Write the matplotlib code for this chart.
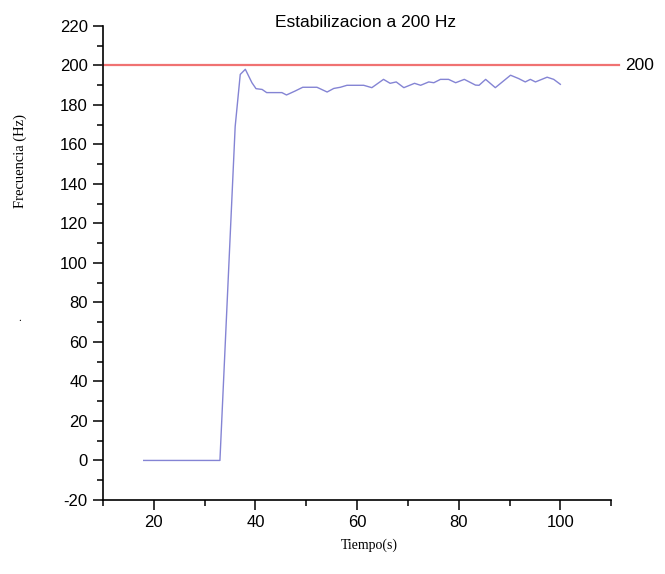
import matplotlib
matplotlib.use("Agg")
import matplotlib.pyplot as plt
from matplotlib.ticker import MultipleLocator

plt.rcParams["axes.unicode_minus"] = False

# valores
tiempo = [18, 33, 36, 37, 38, 39.3, 40.1, 41.3, 42.2, 45.2, 46.1, 47.8, 49.3,
          52.1, 54.1, 55.4, 56.7, 58.0, 59.3, 61.3, 62.9, 65.2, 66.5, 67.7,
          69.2, 71.3, 72.5, 74.1, 75.1, 76.4, 78.0, 79.4, 81.1, 83.3, 84.0,
          85.3, 87.2, 90.2, 91.8, 93.1, 94.1, 95.1, 97.4, 98.7, 100.0]
frecuencia = [0, 0, 169, 195.4, 198, 191.2, 188.2, 187.8, 186.2, 186.2, 185,
              187, 188.9, 188.9, 186.5, 188.3, 188.9, 189.9, 189.9, 189.9,
              188.7, 192.9, 190.9, 191.6, 188.7, 190.9, 189.9, 191.6, 191.2,
              192.9, 192.9, 191.2, 192.9, 190, 189.9, 192.9, 188.7, 195,
              193.3, 191.6, 192.9, 191.6, 194, 192.9, 190.4]
referencia = 200

fig = plt.figure(figsize=(6.65, 5.74), dpi=100)
ax = fig.add_axes([0.155, 0.129, 0.764, 0.826])

ax.plot(tiempo, frecuencia, color="#8484d4", lw=1.0)
ax.plot([10, 111.5], [referencia, referencia], color="#f07272", lw=1.6, clip_on=False)

ax.set_xlim(10, 110)
ax.set_ylim(-20, 220)
ax.xaxis.set_major_locator(MultipleLocator(20))
ax.xaxis.set_minor_locator(MultipleLocator(10))
ax.yaxis.set_major_locator(MultipleLocator(20))
ax.yaxis.set_minor_locator(MultipleLocator(10))

for s in ["top", "right"]:
    ax.spines[s].set_visible(False)
for s in ["left", "bottom"]:
    ax.spines[s].set_linewidth(1.2)

ax.tick_params(which="major", direction="out", length=7, width=1.1,
               labelsize=12, pad=4)
ax.tick_params(which="minor", direction="out", length=4, width=1.1)
for lbl in ax.get_xticklabels() + ax.get_yticklabels():
    lbl.set_fontfamily("Liberation Sans")

fig.text(0.549, 0.961, "Estabilizacion a 200 Hz", ha="center", va="center",
         fontsize=12.5, family="Liberation Sans")
ax.text(112.8, referencia, "200", ha="left", va="center", fontsize=12.5,
        family="Liberation Sans", clip_on=False)
fig.text(0.556, 0.05, "Tiempo(s)", ha="center", va="center",
         fontsize=10, family="Liberation Serif")
fig.text(0.03, 0.72, "Frecuencia (Hz)", ha="center", va="center",
         rotation=90, fontsize=10.5, family="Liberation Serif")
fig.text(0.03, 0.445, ".", ha="center", va="center", fontsize=8,
         family="Liberation Serif")

fig.savefig("out.png", dpi=100)
